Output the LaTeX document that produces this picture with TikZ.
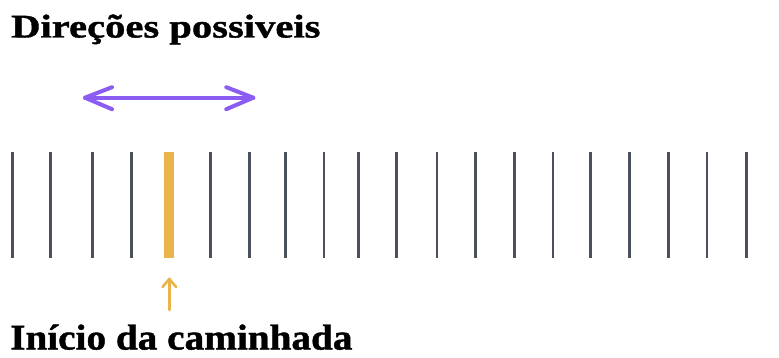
\documentclass[tikz,border=0pt]{standalone}
\usepackage{fontspec}
\setmainfont{Liberation Serif}
\newfontfamily\toptitlefont[FakeStretch=1.23,FakeBold=1.2]{Liberation Serif Bold}
\newfontfamily\bottitlefont[FakeStretch=1.09,FakeBold=1.2]{Liberation Serif Bold}
\usetikzlibrary{calc}
\definecolor{tickgray}{HTML}{4A505C}
\definecolor{startyellow}{HTML}{E9B44C}
\definecolor{dirpurple}{HTML}{8B5CF2}
\tikzset{
  tickline/.style={draw=tickgray, line width=2.5pt},
  startbar/.style={draw=startyellow, line width=10.5pt},
  dirarrow/.style={draw=dirpurple, line width=4pt, line cap=round, line join=round},
  startarrow/.style={draw=startyellow, line width=2.6pt, line cap=round, line join=round},
  titletext/.style={anchor=base west, inner sep=0pt, text=black},
}
\begin{document}
\begin{tikzpicture}[x=1pt,y=-1pt]
\useasboundingbox (0,0) rectangle (779,358);
% titles
\node[titletext, font=\toptitlefont\fontsize{33}{33}\selectfont] (title) at (11,37.5) {Direções possiveis};
\node[titletext, font=\bottitlefont\fontsize{36}{36}\selectfont] (start) at (10,349.5) {Início da caminhada};
% tick lines
\foreach \x [count=\i] in {12.3,50.7,92.7,131.7,210.7,249.3,285.3,324,358.3,396.7,437,475.7,514.7,553,590.7,629.3,668.7,707,746.3} {
  \coordinate (t\i a) at (\x,152);
  \coordinate (t\i b) at (\x,258);
  \draw[tickline] (t\i a) -- (t\i b);
}
% start bar
\coordinate (bartop) at (169,152);
\coordinate (barbot) at (169,258);
\draw[startbar] (bartop) -- (barbot);
% direction arrow
\coordinate (dl) at (85,97.7);
\coordinate (dr) at (253.3,97.7);
\draw[dirarrow] (dl) -- (dr);
\draw[dirarrow] ($(dl)+(27,-10.5)$) -- (dl) -- ($(dl)+(27,11.5)$);
\draw[dirarrow] ($(dr)+(-27,-10.5)$) -- (dr) -- ($(dr)+(-27,11.5)$);
% start arrow
\coordinate (atip) at (169.3,279);
\coordinate (atail) at (169.3,310);
\draw[startarrow] (atail) -- (atip);
\draw[startarrow] ($(atip)+(-6.8,8)$) -- (atip) -- ($(atip)+(6.8,8)$);
\end{tikzpicture}
\end{document}
